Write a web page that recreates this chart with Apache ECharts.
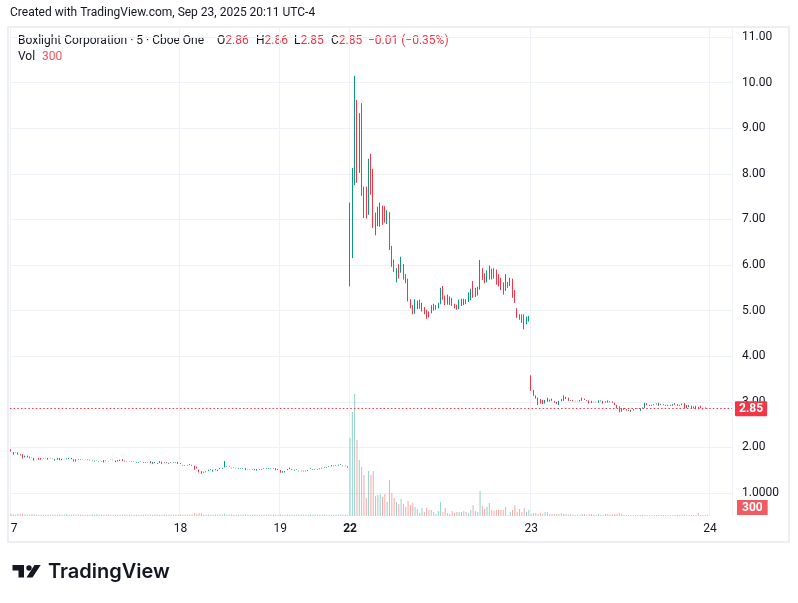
<!DOCTYPE html>
<html><head><meta charset="utf-8">
<script src="https://cdn.jsdelivr.net/npm/echarts@6/dist/echarts.min.js"></script>
<style>html,body{margin:0;padding:0;background:#fff}#c{width:798px;height:603px}</style>
</head><body><div id="c"></div>
<script>
// ---- data: 5-minute bars, [open, close] or [open, close, low, high] ----
const day17 = [
[1.96,1.91],[1.90,1.84],[1.88,1.89],[1.89,1.84],[1.85,1.82],[1.85,1.76],[1.78,1.82],[1.78,1.82],[1.80,1.76],[1.78,1.79],
[1.77,1.71],[1.74,1.745],[1.77,1.73],[1.77,1.73],[1.75,1.76],[1.76,1.77],[1.73,1.77],[1.76,1.77],[1.76,1.75],[1.71,1.75],
[1.77,1.73],[1.77,1.72],[1.72,1.75],[1.745,1.75],[1.74,1.76],[1.74,1.77],[1.74,1.77],[1.74,1.69],[1.74,1.69],[1.73,1.745],
[1.745,1.73],[1.745,1.74],[1.74,1.745],[1.72,1.735],[1.715,1.73],[1.71,1.72],[1.69,1.71],[1.71,1.72],[1.70,1.69],[1.70,1.69],
[1.67,1.72],[1.70,1.715],[1.70,1.69],[1.72,1.73],[1.73,1.72],[1.68,1.71],[1.695,1.72],[1.70,1.73],[1.745,1.70],[1.71,1.69],
[1.70,1.69],[1.70,1.69],[1.70,1.69],[1.70,1.69],[1.665,1.68],[1.665,1.68],[1.70,1.69],[1.665,1.68],[1.665,1.68],[1.67,1.68],
[1.70,1.655],[1.64,1.68],[1.66,1.68],[1.635,1.655],[1.66,1.70],[1.69,1.64],[1.68,1.665],[1.68,1.665],[1.64,1.66],[1.665,1.68],
[1.68,1.665],[1.68,1.665],[1.635,1.68]];
const day18 = [
[1.655,1.635],[1.60,1.615],[1.60,1.615],[1.60,1.615],[1.635,1.615],[1.62,1.60],[1.60,1.51],[1.58,1.54],[1.51,1.45],[1.48,1.42],
[1.445,1.465],[1.455,1.475],[1.48,1.51],[1.52,1.50],[1.47,1.51],[1.50,1.525],[1.48,1.51],[1.525,1.547],[1.53,1.55],[1.56,1.70],
[1.58,1.595],[1.58,1.595],[1.54,1.555],[1.57,1.555],[1.55,1.54],[1.53,1.545],[1.53,1.545],[1.53,1.545],[1.50,1.545],[1.505,1.515],
[1.505,1.515],[1.505,1.515],[1.50,1.525],[1.49,1.525],[1.525,1.51],[1.525,1.51],[1.53,1.545],[1.53,1.545],[1.53,1.545],[1.53,1.545],
[1.53,1.545],[1.50,1.545],[1.505,1.525]];
const day19 = [
[1.505,1.445],[1.445,1.48],[1.45,1.48],[1.50,1.525],[1.525,1.555],[1.51,1.53],[1.49,1.51],[1.51,1.525],[1.475,1.49],[1.475,1.49],
[1.475,1.49],[1.475,1.49],[1.48,1.50],[1.53,1.55],[1.51,1.525],[1.51,1.525],[1.51,1.525],[1.52,1.54],[1.535,1.555],[1.555,1.57],
[1.555,1.57],[1.57,1.585],[1.585,1.613],[1.60,1.585],[1.60,1.615],[1.60,1.62],[1.62,1.635],[1.60,1.585],[1.60,1.585],[1.585,1.555]];
const day22 = [
[5.55,7.35,5.53,7.37],[6.20,7.75,6.15,8.13],[7.75,9.95,7.75,10.15],[9.60,7.85,7.80,9.62],[8.05,9.30,8.02,9.33],
[9.50,7.55,7.52,9.55],[7.70,7.05,7.03,7.72],[7.70,7.05,7.02,7.72],[7.10,8.25,7.10,8.33],[8.40,7.55,7.54,8.44],
[8.10,6.85,6.81,8.11],[7.15,6.65,6.65,7.15],[6.85,7.25,6.85,7.28],[6.85,7.35,6.84,7.37],[7.30,6.90,6.88,7.30],
[7.28,6.93,6.93,7.29],[6.92,7.18,6.90,7.20],[7.15,6.35,6.33,7.16],[6.40,5.98,5.96,6.42],[6.12,5.87,5.85,6.12],
[5.63,5.90,5.62,5.93],[6.00,5.72,5.70,6.02],[5.85,6.15,5.83,6.18],[6.02,5.70,5.68,6.02],[5.80,5.62,5.60,5.80],
[5.70,5.22,5.20,5.70],[5.25,5.06,5.05,5.25],[5.12,4.95,4.92,5.12],[4.98,5.22,4.93,5.25],[5.05,5.20,5.03,5.22],
[5.22,5.05,5.04,5.24],[5.00,5.15,4.98,5.17],[5.08,4.95,4.92,5.08],[5.02,4.87,4.82,5.02],[4.98,4.88,4.85,4.98],
[4.95,5.10,4.94,5.12],[5.00,5.12,5.00,5.15],[5.05,5.10,5.02,5.12],[5.05,5.15,5.05,5.17],[5.15,5.50,5.14,5.50],
[5.52,5.25,5.24,5.54],[5.32,5.12,5.12,5.33],[5.15,5.33,5.13,5.35],[5.12,5.30,5.12,5.31],[5.28,5.12,5.10,5.28],
[5.15,5.08,5.05,5.15],[5.12,5.02,5.02,5.13],[5.05,5.22,5.03,5.24],[5.10,5.25,5.10,5.26],[5.12,5.25,5.12,5.26],
[5.25,5.15,5.14,5.25],[5.20,5.40,5.19,5.40],[5.25,5.45,5.23,5.48],[5.60,5.30,5.28,5.65],[5.45,5.32,5.30,5.50],
[5.35,5.50,5.33,5.52],[5.48,6.10,5.46,6.11],[5.92,5.70,5.67,5.93],[5.80,5.62,5.60,5.82],[5.65,5.88,5.62,5.88],
[5.70,5.97,5.68,5.99],[5.92,5.68,5.68,5.92],[5.92,5.70,5.70,5.93],[5.90,5.58,5.57,5.90],[5.78,5.55,5.53,5.80],
[5.70,5.45,5.45,5.72],[5.62,5.35,5.35,5.62],[5.44,5.80,5.43,5.80],[5.62,5.50,5.50,5.63],[5.55,5.72,5.54,5.72],
[5.70,5.30,5.28,5.70],[5.45,5.18,5.17,5.45],[5.05,4.86,4.84,5.05],[4.92,4.82,4.80,4.92],[4.92,4.75,4.73,4.92],
[4.92,4.60,4.59,4.92],[4.72,4.87,4.70,4.87],[4.78,4.88,4.76,4.88]];
const day23 = [
[3.56,3.25,3.24,3.58],[3.26,3.13],[3.14,3.07],[3.09,2.93],[3.06,2.96],[3.04,2.95],[2.96,3.04],[3.00,3.09],[3.05,3.01],[3.02,3.07],
[3.02,2.98],[3.00,2.95],[2.93,3.02],[3.01,3.06],[3.02,3.14],[3.11,3.06],[3.09,3.02],[3.02,3.04],[3.04,3.01],[3.01,3.02],
[3.01,3.02],[3.01,3.04],[3.02,3.09],[3.07,3.04],[3.04,3.02],[3.03,2.96],[3.02,2.97],[2.99,3.00],[2.99,3.00],[2.98,3.03],
[3.01,3.03],[3.02,2.96],[2.98,3.01],[3.03,2.98],[3.01,2.99],[3.01,2.98],[2.98,2.93],[2.93,2.86],[2.90,2.77],[2.78,2.85],
[2.86,2.824],[2.84,2.81],[2.824,2.80],[2.78,2.824],[2.81,2.838],[2.86,2.838],[2.86,2.846],[2.80,2.86],[2.875,2.853],[2.86,2.977],
[2.97,2.926],[2.933,2.911],[2.933,2.911],[2.926,2.948],[2.96,2.94],[2.911,2.977],[2.955,2.933],[2.948,2.926],[2.911,2.933],[2.911,2.933],
[2.911,2.933],[2.911,2.948],[2.97,2.933],[2.948,2.911],[2.911,2.933],[2.926,2.96],[2.97,2.86],[2.926,2.86],[2.882,2.926],[2.911,2.853],
[2.897,2.853],[2.911,2.838],[2.89,2.838],[2.911,2.86],[2.83,2.853],[2.875,2.86],[2.86,2.85,2.85,2.86]];

const vol17 = [4600,3000,2600,4600,4600,4400,2800,2800,2600,3400,
 4200,2600,2600,2800,2600,2600,2800,2600,2800,2600,
 2400,2800,2600,3000,4200,2600,2600,2800,2600,2600,
 2800,2600,2400,2600,2800,3400,2600,4200,2600,2800,
 2600,2600,3000,2600,2400,2600,2800,2600,2600,2800,
 2400,2600,2600,2800,2600,2400,2600,2600,2800,2600,
 2400,2600,2800,3000,2600,2600,2800,2600,2400,2600,
 2600,2800,2600];
const vol18 = [2800,2600,2600,2600,2800,3000,5600,4000,6000,5400,
 2600,2600,2800,2600,2600,2800,2600,2800,3000,5200,
 2600,2600,2800,2600,2600,2400,2600,2600,2800,2600,
 2600,2600,2800,2600,2600,2600,2600,2400,2600,2600,
 2800,2600,2400];
const vol19 = [3600,2600,2600,2800,2600,2600,2400,2600,2600,2800,
 2600,2600,2600,3400,2600,2600,2400,2600,2600,2800,
 2600,2600,2600,2600,2800,2600,2600,2600,2800,2600];
const vol22 = [156000,208000,244000,152000,112000,98000,82000,36000,90000,82000,
 90000,40000,42000,44000,38000,44000,28000,72000,46000,36000,
 28000,24000,34000,24000,18000,30000,22000,26000,18000,14000,
 6000,16000,8000,16000,12000,12000,8000,4000,10000,28000,
 8000,16000,6000,4000,10000,6000,8000,8000,8000,10000,
 8000,6000,12000,22000,10000,8000,50000,20000,14000,18000,
 26000,12000,10000,12000,12000,12000,12000,18000,2000,8000,
 12000,22000,8000,14000,8000,16000,8000,12000];
const vol23 = [4000,6000,6000,4000,6000,4000,8000,8000,4000,4000,
 4000,4000,4000,6000,4000,4000,3000,4000,3000,2000,
 2000,2000,4000,4000,2000,4000,4000,2000,2000,4000,
 2000,2000,4000,4000,3000,3000,4000,4000,6000,4000,
 2000,2000,2000,2000,2000,2000,2000,2000,2000,3000,
 2000,2000,2000,2000,2000,2000,2000,2000,2000,2000,
 2000,2000,2000,2000,2000,2000,3000,2000,2000,2000,
 2000,2000,6000,2000,2000,2000,300];

const dayNames = ['17','18','19','22','23'];
const dayTickLabels = ['7','18','19','22','23','24'];
const boldDay = '22';
const futureSlots = 10;
const priceTicks = [1,2,3,4,5,6,7,8,9,10,11];

// ---- build ----
const days = [day17, day18, day19, day22, day23];
const vols = [].concat(vol17, vol18, vol19, vol22, vol23);
const cats = [], ohlc = [], labelAt = {};
let idx = 0;
days.forEach((d, k) => {
  labelAt[idx] = dayTickLabels[k];
  d.forEach((b, j) => {
    cats.push(dayNames[k] + '-' + j);
    const o = b[0], c = b[1];
    const l = b.length > 2 ? b[2] : Math.min(o, c);
    const h = b.length > 3 ? b[3] : Math.max(o, c);
    ohlc.push([o, c, l, h]);
    idx++;
  });
});
labelAt[idx] = dayTickLabels[5];
for (let j = 0; j < futureSlots; j++) cats.push('24-' + j);

const UP = '#089981', DOWN = '#f23645';
const volData = vols.map((v, i) => ({
  value: v,
  itemStyle: { color: ohlc[i][1] >= ohlc[i][0] ? 'rgba(38,166,154,0.5)' : 'rgba(239,83,80,0.5)' }
}));
const last = ohlc[ohlc.length - 1];
const prevClose = ohlc[ohlc.length - 2][1];
const chg = last[1] - prevClose;
const pct = chg / prevClose * 100;
const fmtS = v => (v < 0 ? '\u2212' : '+') + Math.abs(v).toFixed(2);

const FONT = 'Roboto, "Noto Sans", sans-serif';
const TXT = '#131722';
const GRID = { left: 9.84, right: 66 };
const isLabel = i => labelAt[i] !== undefined;
const F12 = '12px ' + FONT;
const richLegend = { d: { fill: TXT, font: F12 }, r: { fill: DOWN, font: F12 } };
const ohlcItem = (left, key, val) => ({ type: 'text', left: left, top: 35,
  style: { text: '{d|' + key + '}{r|' + val + '}', font: F12, fill: TXT, rich: richLegend } });

const chart = echarts.init(document.getElementById('c'), null, { renderer: 'canvas' });
chart.setOption({
  animation: false,
  backgroundColor: '#ffffff',
  textStyle: { fontFamily: FONT },
  grid: [
    { left: GRID.left, right: GRID.right, top: 37, bottom: 110 },
    { left: GRID.left, right: GRID.right, top: 381, bottom: 87 },
    { left: GRID.left, right: GRID.right, top: 27, bottom: 87 }
  ],
  xAxis: [
    { type: 'category', gridIndex: 0, data: cats, show: false },
    { type: 'category', gridIndex: 1, data: cats, show: false },
    { type: 'category', gridIndex: 2, data: cats,
      axisLine: { show: false }, axisTick: { show: false },
      axisLabel: { interval: (i) => isLabel(i), formatter: (v, i) => {
          const t = labelAt[i]; if (t === undefined) return '';
          if (i === 0) return '{s|' + t + '}';
          return t === boldDay ? '{b|' + t + '}' : t; },
        color: TXT, fontSize: 12, margin: 7, fontFamily: FONT,
        rich: { b: { fontWeight: 'bold', fontSize: 12, color: TXT, fontFamily: FONT },
                s: { fontSize: 12, color: TXT, fontFamily: FONT, padding: [0, 0, 0, 6] } } },
      splitLine: { show: true, interval: (i) => isLabel(i), lineStyle: { color: '#eef1f5', width: 1 } } }
  ],
  yAxis: [
    { type: 'value', gridIndex: 0, position: 'right', min: priceTicks[0], max: priceTicks[priceTicks.length - 1], interval: 1,
      axisLine: { show: false }, axisTick: { show: false },
      axisLabel: { color: TXT, fontSize: 12, margin: 10, fontFamily: FONT,
        formatter: v => v === 1 ? '1.0000' : v.toFixed(2) },
      splitLine: { lineStyle: { color: '#eef1f5', width: 1 } } },
    { type: 'value', gridIndex: 1, min: 0, max: 270000, show: false },
    { type: 'value', gridIndex: 2, show: false }
  ],
  series: [
    { type: 'bar', xAxisIndex: 1, yAxisIndex: 1, data: volData, barWidth: 1, barMinHeight: 1, z: 1 },
    { type: 'candlestick', xAxisIndex: 0, yAxisIndex: 0, data: ohlc, barWidth: 1, z: 3,
      itemStyle: { color: UP, color0: DOWN, borderColor: UP, borderColor0: DOWN, borderWidth: 1 },
      markLine: { silent: true, symbol: ['none', 'none'], animation: false,
        data: [{ yAxis: last[1] }],
        lineStyle: { color: DOWN, type: [1.5, 2.2], width: 1 },
        label: { show: true, position: 'end', distance: 3, formatter: () => last[1].toFixed(2),
          backgroundColor: DOWN, color: '#fff', fontWeight: 'bold', fontSize: 12, fontFamily: FONT,
          padding: [2, 4, 1, 4], borderRadius: 1 } } }
  ],
  graphic: [
    { type: 'rect', shape: { x: 8, y: 27, width: 781, height: 515 }, style: { fill: 'none', stroke: '#eceef2', lineWidth: 2 }, z: -1, silent: true },
    { type: 'text', left: 10, top: 7, style: { text: 'Created with TradingView.com, Sep 23, 2025 20:11 UTC-4', fill: TXT, font: F12 } },
    { type: 'text', left: 18, top: 35, style: { text: 'Boxlight Corporation \u00b7 5 \u00b7 Cboe One', fill: TXT, font: F12 } },
    ohlcItem(217, 'O', last[0].toFixed(2)),
    ohlcItem(256, 'H', last[3].toFixed(2)),
    ohlcItem(294, 'L', last[2].toFixed(2)),
    ohlcItem(331, 'C', last[1].toFixed(2)),
    { type: 'text', left: 368, top: 35, style: { text: fmtS(chg) + ' (' + fmtS(pct) + '%)', fill: DOWN, font: F12 } },
    { type: 'text', left: 18, top: 51, style: { text: 'Vol', fill: TXT, font: F12 } },
    { type: 'text', left: 42, top: 51, style: { text: String(vols[vols.length - 1]), fill: '#f7525f', font: F12 } },
    { type: 'text', left: 737, top: 500, z: 10, style: { text: String(vols[vols.length - 1]), fill: '#fff', font: 'bold ' + F12,
        backgroundColor: '#f05a60', padding: [2, 5, 1, 5] } },
    { type: 'polygon', shape: { points: [[12.5,565],[24,565],[24,577.5],[18.5,577.5],[18.5,570.5],[12.5,570.5]] }, style: { fill: TXT } },
    { type: 'circle', shape: { cx: 29, cy: 568, r: 2.7 }, style: { fill: TXT } },
    { type: 'polygon', shape: { points: [[26.5,577.5],[32.5,577.5],[40.7,565],[34.5,565]] }, style: { fill: TXT } },
    { type: 'text', left: 48, top: 562, style: { text: 'TradingView', fill: TXT, font: '600 20px Inter, Roboto, sans-serif' } }
  ]
});
</script>
</body></html>
